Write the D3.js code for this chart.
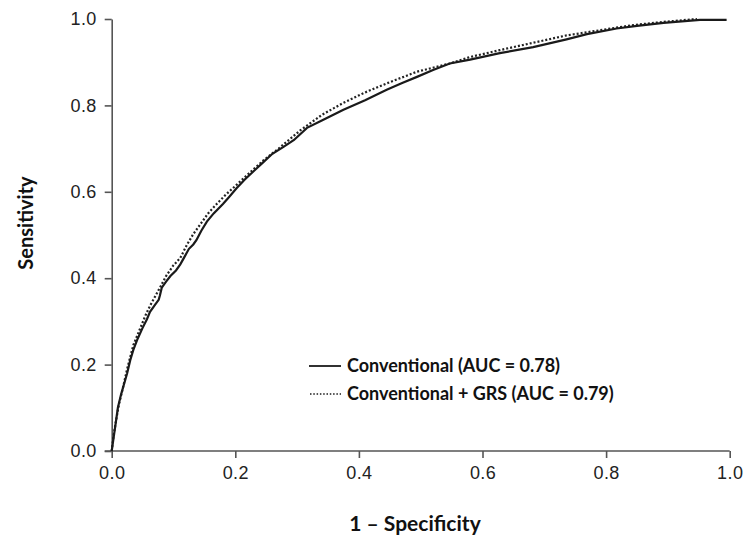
<!DOCTYPE html>
<html>
<head>
<meta charset="utf-8">
<script src="https://cdn.jsdelivr.net/npm/d3@7"></script>
<style>
	body { margin: 0; background: #fff; }
	svg { display: block; font-family: Lato, "Open Sans", sans-serif; }
</style>
</head>
<body>
<script>
	// 1 - specificity / sensitivity
	var convX = [0, 0.003, 0.006, 0.01, 0.015, 0.02, 0.025, 0.03, 0.035, 0.042, 0.05, 0.057, 0.062, 0.07, 0.076, 0.078, 0.081, 0.088, 0.095, 0.104, 0.111, 0.118, 0.125, 0.132, 0.137, 0.145, 0.154, 0.165, 0.18, 0.19, 0.202, 0.215, 0.23, 0.245, 0.26, 0.278, 0.295, 0.316, 0.34, 0.375, 0.41, 0.445, 0.47, 0.494, 0.52, 0.547, 0.58, 0.628, 0.682, 0.736, 0.769, 0.817, 0.85, 0.893, 0.952, 0.995];
	var convY = [0, 0.03, 0.06, 0.10, 0.13, 0.155, 0.18, 0.21, 0.234, 0.26, 0.285, 0.305, 0.322, 0.338, 0.35, 0.36, 0.378, 0.392, 0.405, 0.418, 0.432, 0.45, 0.468, 0.478, 0.488, 0.51, 0.531, 0.55, 0.572, 0.588, 0.608, 0.628, 0.648, 0.668, 0.688, 0.704, 0.72, 0.748, 0.765, 0.79, 0.812, 0.836, 0.852, 0.866, 0.882, 0.897, 0.906, 0.921, 0.935, 0.953, 0.965, 0.978, 0.984, 0.991, 0.998, 0.998];

	var grsX = [0, 0.003, 0.007, 0.012, 0.018, 0.025, 0.035, 0.045, 0.055, 0.062, 0.075, 0.088, 0.1, 0.111, 0.122, 0.132, 0.145, 0.156, 0.17, 0.185, 0.202, 0.22, 0.245, 0.27, 0.305, 0.34, 0.375, 0.41, 0.445, 0.494, 0.547, 0.58, 0.628, 0.682, 0.736, 0.781, 0.844, 0.898, 0.947];
	var grsY = [0, 0.035, 0.07, 0.11, 0.145, 0.19, 0.245, 0.28, 0.315, 0.336, 0.37, 0.405, 0.43, 0.447, 0.478, 0.502, 0.528, 0.55, 0.572, 0.594, 0.616, 0.64, 0.672, 0.70, 0.742, 0.778, 0.806, 0.83, 0.851, 0.878, 0.897, 0.912, 0.928, 0.945, 0.962, 0.972, 0.986, 0.994, 1.0];

	var tickVals = [0, 0.2, 0.4, 0.6, 0.8, 1.0];
	var seriesNames = ['Conventional (AUC = 0.78)', 'Conventional + GRS (AUC = 0.79)'];

	var width = 744,
	    height = 540;

	var svg = d3.select('body')
		.append('svg')
		.attr('width', width)
		.attr('height', height);

	var x = d3.scaleLinear().domain([0, 1]).range([111.7, 729.7]);
	var y = d3.scaleLinear().domain([0, 1]).range([451, 19]);

	var fmt = d3.format('.1f');

	// axes
	var xAxis = svg.append('g')
		.attr('transform', 'translate(0,451)')
		.call(d3.axisBottom(x).tickValues(tickVals).tickFormat(fmt).tickSize(7).tickSizeOuter(0).tickPadding(8));
	var yAxis = svg.append('g')
		.attr('transform', 'translate(111.7,0)')
		.call(d3.axisLeft(y).tickValues(tickVals).tickFormat(fmt).tickSize(7).tickSizeOuter(0).tickPadding(8));

	[xAxis, yAxis].forEach(function (g) {
		g.select('.domain').attr('stroke', '#555').attr('stroke-width', 1.6);
		g.selectAll('.tick line').attr('stroke', '#555').attr('stroke-width', 1.6);
		g.selectAll('.tick text')
			.attr('fill', '#222')
			.style('font-size', '18px')
			.style('letter-spacing', '0.4px');
	});
	// the x domain runs on to the left under the y tick
	xAxis.select('.domain').attr('d', 'M104.7,0H729.7');

	// curves
	var line = d3.line()
		.x(function (d) { return x(d[0]); })
		.y(function (d) { return y(d[1]); });

	var conv = d3.zip(convX, convY),
	    grs = d3.zip(grsX, grsY);

	svg.append('path')
		.datum(grs)
		.attr('d', line)
		.attr('fill', 'none')
		.attr('stroke', '#222')
		.attr('stroke-width', 2.2)
		.attr('stroke-dasharray', '2,2');

	svg.append('path')
		.datum(conv)
		.attr('d', line)
		.attr('fill', 'none')
		.attr('stroke', '#1a1a1a')
		.attr('stroke-width', 2.2);

	// legend
	var legend = svg.append('g');
	legend.append('line')
		.attr('x1', 309).attr('x2', 341).attr('y1', 366).attr('y2', 366)
		.attr('stroke', '#1a1a1a').attr('stroke-width', 1.8);
	legend.append('line')
		.attr('x1', 310).attr('x2', 341).attr('y1', 394).attr('y2', 394)
		.attr('stroke', '#1a1a1a').attr('stroke-width', 1.5)
		.attr('stroke-dasharray', '1.5,1.8');
	legend.selectAll('text')
		.data(seriesNames)
		.enter()
		.append('text')
		.attr('x', 347)
		.attr('y', function (d, i) { return 372 + i * 28; })
		.attr('fill', '#111')
		.style('font-size', '18px')
		.style('font-weight', 700)
		.text(function (d) { return d; });

	// axis titles
	svg.append('text')
		.attr('x', 415)
		.attr('y', 531)
		.attr('text-anchor', 'middle')
		.attr('fill', '#111')
		.style('font-size', '21px')
		.style('font-weight', 700)
		.text('1 – Specificity');

	svg.append('text')
		.attr('transform', 'translate(33,223) rotate(-90)')
		.attr('text-anchor', 'middle')
		.attr('fill', '#111')
		.style('font-size', '20px')
		.style('font-weight', 700)
		.text('Sensitivity');
</script>
</body>
</html>
